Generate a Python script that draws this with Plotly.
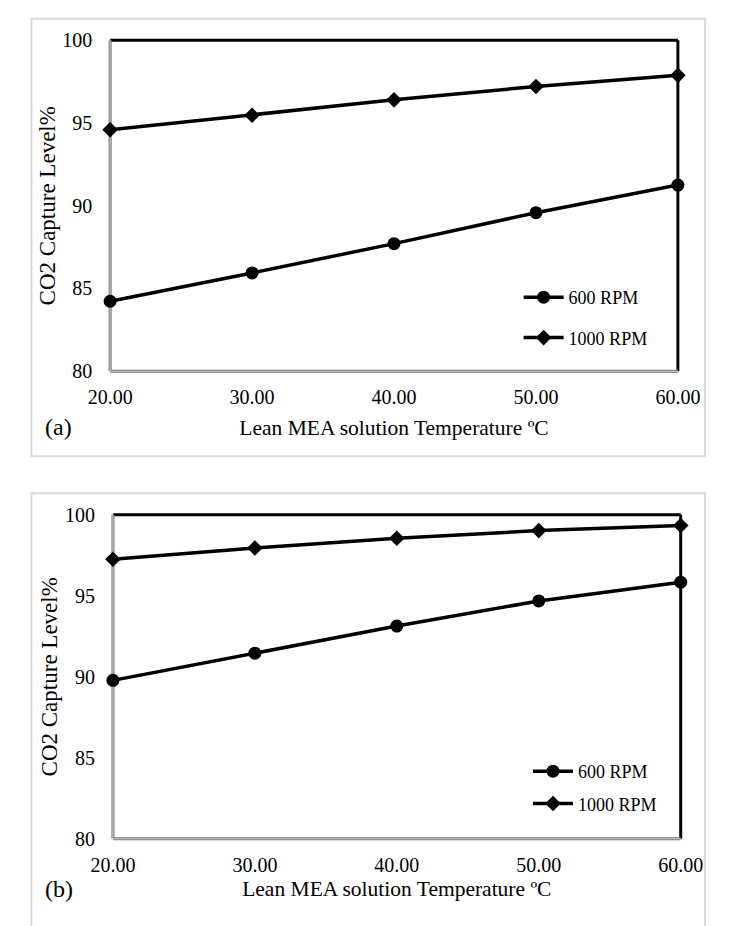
import plotly.graph_objects as go

W, H = 729, 926

temps = [20, 30, 40, 50, 60]
a_600 = [84.23, 85.94, 87.71, 89.58, 91.25]
a_1000 = [94.59, 95.47, 96.40, 97.21, 97.88]
b_600 = [89.78, 91.46, 93.13, 94.68, 95.84]
b_1000 = [97.25, 97.95, 98.55, 99.02, 99.34]

x_ticks = [20, 30, 40, 50, 60]
x_ticktext = ["20.00", "30.00", "40.00", "50.00", "60.00"]
y_ticks = [80, 85, 90, 95, 100]

FONT = "Liberation Serif"

def px_x(v):
    return v / W

def px_y(v):
    return 1 - v / H

fig = go.Figure()

line = dict(color="black", width=3.5)
circ = dict(symbol="circle", size=13, color="black")
diam = dict(symbol="diamond", size=12, color="black")
fig.add_trace(go.Scatter(x=temps, y=a_600, name="600 RPM", mode="lines+markers", line=line, marker=circ,
                         xaxis="x", yaxis="y", legend="legend", legendgroup="a1", cliponaxis=False))
fig.add_trace(go.Scatter(x=temps, y=a_1000, name="1000 RPM", mode="lines+markers", line=line, marker=diam,
                         xaxis="x", yaxis="y", legend="legend", legendgroup="a2", cliponaxis=False))
fig.add_trace(go.Scatter(x=temps, y=b_600, name="600 RPM", mode="lines+markers", line=line, marker=circ,
                         xaxis="x2", yaxis="y2", legend="legend2", legendgroup="b1", cliponaxis=False))
fig.add_trace(go.Scatter(x=temps, y=b_1000, name="1000 RPM", mode="lines+markers", line=line, marker=diam,
                         xaxis="x2", yaxis="y2", legend="legend2", legendgroup="b2", cliponaxis=False))

def xaxis_cfg(standoff):
    return dict(range=[20, 60], tickvals=x_ticks, ticktext=x_ticktext, showgrid=False, zeroline=False,
                showline=False, ticks="outside", ticklen=8, tickcolor="rgba(0,0,0,0)",
                tickfont=dict(family=FONT, size=20, color="black"),
                title=dict(text="Lean MEA solution Temperature ºC",
                           font=dict(family=FONT, size=21.5, color="black"), standoff=standoff))

ya = dict(range=[80, 100], tickvals=y_ticks, showgrid=False, zeroline=False, showline=False,
          ticks="outside", ticklen=13, tickcolor="rgba(0,0,0,0)",
          tickfont=dict(family=FONT, size=20, color="black"),
          title=dict(text="CO2 Capture Level%", font=dict(family=FONT, size=23, color="black"), standoff=0))

dom_a_x = [px_x(93), px_x(699)]
dom_a_y = [px_y(369), px_y(30)]
dom_b_x = [px_x(96), px_x(702)]
dom_b_y = [px_y(848), px_y(516)]

fig.update_layout(
    width=W, height=H, margin=dict(l=0, r=0, t=0, b=0),
    paper_bgcolor="white", plot_bgcolor="white",
    xaxis=dict(xaxis_cfg(12), domain=dom_a_x, anchor="y"),
    yaxis=dict(ya, domain=dom_a_y, anchor="x"),
    xaxis2=dict(xaxis_cfg(6), domain=dom_b_x, anchor="y2"),
    yaxis2=dict(ya, domain=dom_b_y, anchor="x2"),
    legend=dict(x=px_x(529), y=px_y(274.5), xanchor="left", yanchor="top",
                bgcolor="rgba(0,0,0,0)", font=dict(family=FONT, size=18, color="black"),
                tracegroupgap=14, itemwidth=40),
    legend2=dict(x=px_x(539), y=px_y(760), xanchor="left", yanchor="top",
                 bgcolor="rgba(0,0,0,0)", font=dict(family=FONT, size=18, color="black"),
                 tracegroupgap=6, itemwidth=40),
    showlegend=True,
)

shapes = []
shapes.append(dict(type="rect", xref="paper", yref="paper", x0=px_x(9), x1=px_x(728), y0=px_y(456), y1=px_y(8),
                   line=dict(color="#d9d9d9", width=2), layer="below"))
shapes.append(dict(type="rect", xref="paper", yref="paper", x0=px_x(9), x1=px_x(728), y0=-0.05, y1=px_y(494),
                   line=dict(color="#d9d9d9", width=2), layer="below"))
for xd, yd in (("x domain", "y domain"), ("x2 domain", "y2 domain")):
    shapes.append(dict(type="line", xref=xd, yref=yd, x0=0, x1=1, y0=1, y1=1, line=dict(color="black", width=3), layer="below"))
    shapes.append(dict(type="line", xref=xd, yref=yd, x0=1, x1=1, y0=0, y1=1, line=dict(color="black", width=3), layer="below"))
    shapes.append(dict(type="line", xref=xd, yref=yd, x0=0, x1=1, y0=0, y1=0, line=dict(color="#707070", width=3), layer="below"))
    shapes.append(dict(type="line", xref=xd, yref=yd, x0=0, x1=0, y0=0, y1=1, line=dict(color="#707070", width=3), layer="below"))
    shapes.append(dict(type="line", xref=xd, yref=yd, x0=0, x1=1, y0=0, y1=0, line=dict(color="#d8d8d8", width=1), layer="below"))
    shapes.append(dict(type="line", xref=xd, yref=yd, x0=0, x1=0, y0=0, y1=1, line=dict(color="#d8d8d8", width=1), layer="below"))
fig.update_layout(shapes=shapes)

fig.add_annotation(text="(a)", x=px_x(21), y=px_y(426), xref="paper", yref="paper", xanchor="left", yanchor="middle",
                   showarrow=False, font=dict(family=FONT, size=24, color="black"))
fig.add_annotation(text="(b)", x=px_x(21), y=px_y(899), xref="paper", yref="paper", xanchor="left", yanchor="middle",
                   showarrow=False, font=dict(family=FONT, size=24, color="black"))

fig.write_html("out.html")
